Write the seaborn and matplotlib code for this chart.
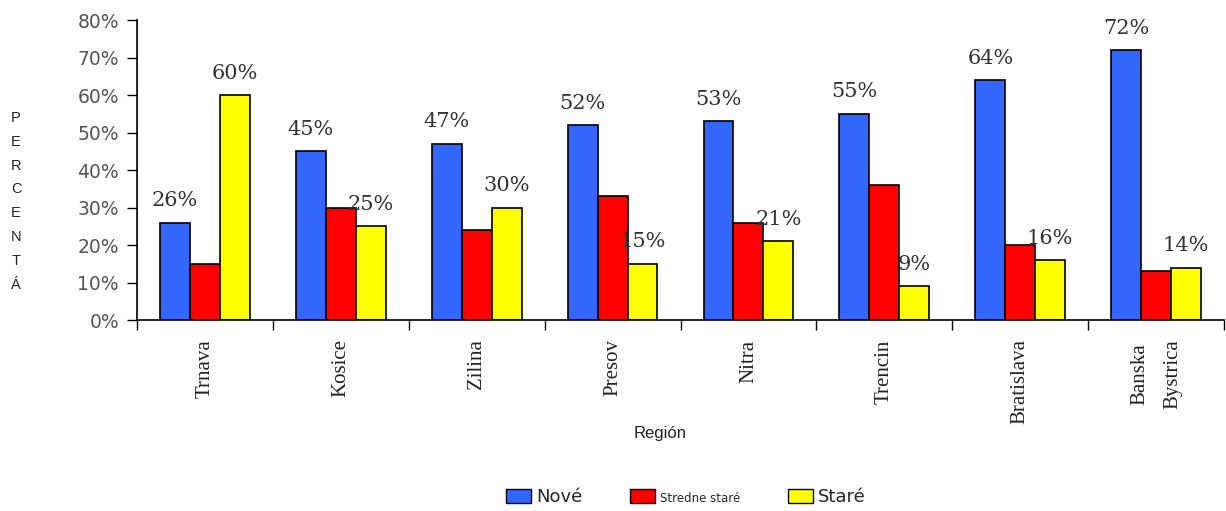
import matplotlib
matplotlib.use("Agg")
import matplotlib.pyplot as plt
from matplotlib.patches import Patch
from matplotlib.ticker import FixedLocator, PercentFormatter
import seaborn as sns
import pandas as pd

regions = ["Trnava", "Kosice", "Zilina", "Presov", "Nitra", "Trencin", "Bratislava", "Banska\nBystrica"]
nove = [26, 45, 47, 52, 53, 55, 64, 72]
stredne = [15, 30, 24, 33, 26, 36, 20, 13]
stare = [60, 25, 30, 15, 21, 9, 16, 14]
series_names = ["Nové", "Stredne staré", "Staré"]
colors = ["#3366FF", "#FF0000", "#FFFF00"]
y_ticks = [0, 10, 20, 30, 40, 50, 60, 70, 80]

rows = []
for name, vals in zip(series_names, [nove, stredne, stare]):
    for r, v in zip(regions, vals):
        rows.append({"Región": r, "Séria": name, "Hodnota": v})
df = pd.DataFrame(rows)

sns.set_style("white")
plt.rcParams["font.family"] = ["DejaVu Sans"]

fig = plt.figure(figsize=(12.26, 5.11), dpi=100)
ax = fig.add_axes([137 / 1226, 1 - 320 / 511, (1224 - 137) / 1226, 300 / 511])

sns.barplot(data=df, x="Región", y="Hodnota", hue="Séria", order=regions,
            hue_order=series_names, palette=colors, width=0.66,
            edgecolor="black", linewidth=1.2, legend=False, ax=ax, saturation=1)

ax.set_ylim(0, 80)
ax.set_xlim(-0.5, len(regions) - 0.5)
ax.set_yticks(y_ticks)
ax.yaxis.set_major_formatter(PercentFormatter(decimals=0))
ax.tick_params(axis="y", labelsize=13.5, labelcolor="#555555", length=7, width=1,
               direction="out", left=True, pad=6, color="black")

# category boundaries as major ticks, labels at centers via minor ticks
ax.xaxis.set_major_locator(FixedLocator([i - 0.5 for i in range(len(regions) + 1)]))
ax.xaxis.set_major_formatter(plt.NullFormatter())
ax.xaxis.set_minor_locator(FixedLocator(list(range(len(regions)))))
ax.set_xticklabels(regions, minor=True, rotation=90, va="top", ha="center",
                   fontfamily="Liberation Serif", fontsize=15, color="#222222",
                   linespacing=2.0)
ax.tick_params(axis="x", which="major", length=7, width=1, direction="out",
               bottom=True, color="black")
ax.tick_params(axis="x", which="minor", length=0, pad=14)

ax.set_xlabel("")
ax.set_ylabel("")
for s in ["top", "right"]:
    ax.spines[s].set_visible(False)
for s in ["left", "bottom"]:
    ax.spines[s].set_color("black")
    ax.spines[s].set_linewidth(1.2)

# value labels for Nové and Staré
for cont, vals in [(ax.containers[0], nove), (ax.containers[2], stare)]:
    ax.bar_label(cont, labels=[f"{v}%" for v in vals], padding=9,
                 fontfamily="DejaVu Serif", fontsize=15, color="#333333")

fig.text(660 / 1226, 1 - 433 / 511, "Región", ha="center", va="center",
         fontfamily="Liberation Sans", fontsize=12, color="#222222")

for i, ch in enumerate("PERCENTÁ"):
    fig.text(16 / 1226, 1 - (118 + i * 23.8) / 511, ch, ha="center", va="center",
             fontfamily="Liberation Sans", fontsize=10.5, color="#222222")

handles = [Patch(facecolor=c, edgecolor="black", linewidth=1) for c in colors]
leg = fig.legend(handles, series_names, loc="center", bbox_to_anchor=(686 / 1226, 1 - 497 / 511),
                 ncol=3, frameon=False, fontsize=13, handlelength=1.4, handleheight=0.8,
                 handletextpad=0.3, columnspacing=2.6)
texts = leg.get_texts()
texts[1].set_fontsize(8.5)

fig.savefig("out.png", dpi=100)
